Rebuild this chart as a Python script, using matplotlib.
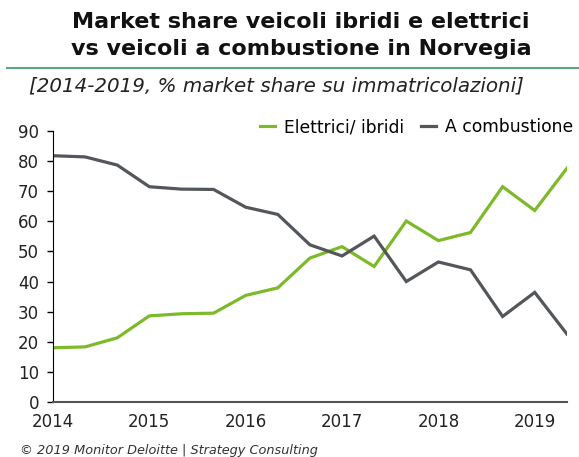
import matplotlib
matplotlib.use("Agg")
from matplotlib import pyplot as plt

# data (one point every 4 months, 2014 -> 2019.33)
periods = list(range(17))
year_labels = ['2014', '2015', '2016', '2017', '2018', '2019']
year_pos = [0, 3, 6, 9, 12, 15]
elettrici = [18.0, 18.3, 21.3, 28.6, 29.3, 29.5, 35.4, 37.9, 47.8, 51.6, 45.0,
             60.1, 53.6, 56.3, 71.5, 63.6, 77.6]
combustione = [81.8, 81.4, 78.7, 71.5, 70.7, 70.6, 64.7, 62.3, 52.2, 48.5, 55.1,
               40.0, 46.5, 43.9, 28.4, 36.4, 22.6]

green = '#7dba2a'
grey = '#53565a'

plt.rcParams['font.family'] = ['DejaVu Sans']
fig = plt.figure(figsize=(5.79, 4.57), dpi=100)
ax = fig.add_axes([0.0915, 0.1204, 0.8875, 0.5929])

ax.plot(periods, elettrici, color=green, lw=2.3, label='Elettrici/ ibridi',
        solid_joinstyle='miter')
ax.plot(periods, combustione, color=grey, lw=2.3, label='A combustione',
        solid_joinstyle='miter')

ax.set_xlim(0, 16)
ax.set_ylim(0, 90)
ax.set_yticks(range(0, 91, 10))
ax.set_xticks(year_pos)
ax.set_xticklabels(year_labels)
ax.tick_params(axis='x', length=0, pad=8, labelsize=12, colors='#222222')
ax.tick_params(axis='y', length=4, width=1, pad=6, labelsize=12, colors='#222222')
ax.tick_params(axis='y', color='black')
for s in ['top', 'right']:
    ax.spines[s].set_visible(False)
ax.spines['left'].set_color('black')
ax.spines['bottom'].set_color('#555555')
ax.spines['bottom'].set_linewidth(1.5)

ax.legend(loc='lower right', bbox_to_anchor=(1.025, 0.955), ncol=2, frameon=False,
          fontsize=12.3, handlelength=0.9, handletextpad=0.5, columnspacing=1.0,
          borderaxespad=0)

fig.text(0.52, 0.952, 'Market share veicoli ibridi e elettrici', ha='center',
         va='center', fontsize=16, fontweight='bold', color='#111111')
fig.text(0.52, 0.893, 'vs veicoli a combustione in Norvegia', ha='center',
         va='center', fontsize=16, fontweight='bold', color='#111111')
fig.add_artist(plt.Line2D([0.012, 1.0], [0.851, 0.851], color='#5aa87e', lw=1.5))
fig.text(0.05, 0.812, '[2014-2019, % market share su immatricolazioni]',
         ha='left', va='center', fontsize=14.3, style='italic', color='#222222')
fig.text(0.035, 0.015, '\u00a9 2019 Monitor Deloitte | Strategy Consulting',
         ha='left', va='center', fontsize=9.3, style='italic', color='#333333')

fig.savefig('out.png', dpi=100)
